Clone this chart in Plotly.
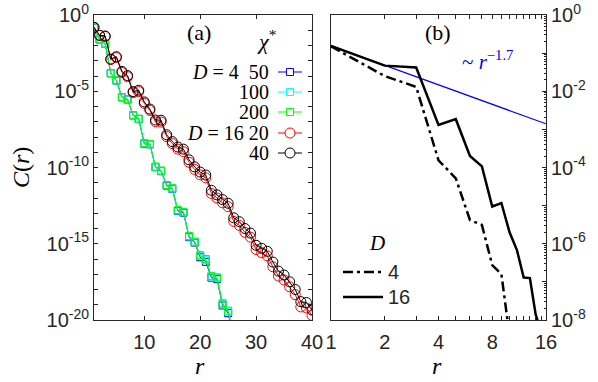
import plotly.graph_objects as go

# ---- data ----
r_d4 = list(range(1, 27))
r_d16 = list(range(1, 41))

# D = 4, chi* = 50 / 100 / 200
c_d4_chi50 = [1.5e-1, 2.5e-2, 1.3e-2, 1.5e-4, 5.0e-5, 4.0e-6, 2.9e-6, 2.6e-7, 1.5e-7, 3.6e-9,
              3.3e-9, 1.05e-10, 5.8e-11, 6.5e-12, 4.0e-12, 1.4e-13, 1.1e-13, 2.7e-15, 1.2e-15, 1.3e-16,
              6.5e-17, 6.0e-18, 4.8e-18, 9.0e-20, 2.8e-20, 6.0e-22]
c_d4_chi100 = [1.5e-1, 2.5e-2, 1.3e-2, 1.55e-4, 5.1e-5, 4.1e-6, 3.0e-6, 2.7e-7, 1.55e-7, 3.8e-9,
               3.4e-9, 1.1e-10, 6.1e-11, 6.9e-12, 4.2e-12, 1.5e-13, 1.2e-13, 3.0e-15, 1.3e-15, 1.6e-16,
               8.5e-17, 7.0e-18, 5.6e-18, 1.1e-19, 3.5e-20, 8.0e-22]
c_d4_chi200 = [1.5e-1, 2.5e-2, 1.3e-2, 1.55e-4, 5.2e-5, 4.2e-6, 3.1e-6, 2.75e-7, 1.6e-7, 3.9e-9,
               3.5e-9, 1.15e-10, 6.3e-11, 7.1e-12, 4.4e-12, 1.6e-13, 1.26e-13, 3.2e-15, 1.4e-15, 1.8e-16,
               1.0e-16, 7.8e-18, 6.3e-18, 1.26e-19, 4.1e-20, 1.0e-21]

# D = 16, chi* = 20 / 40
c_d16_chi20 = [1.55e-1, 4.5e-2, 3.9e-2, 1.2e-3, 1.6e-3, 1.7e-4, 9.0e-5, 8.0e-6, 9.5e-6, 1.6e-6,
               5.5e-7, 1.0e-7, 9.5e-8, 1.05e-8, 3.7e-9, 1.6e-9, 1.1e-9, 2.2e-10, 7.5e-11, 3.3e-11,
               2.1e-11, 2.0e-12, 1.0e-12, 4.8e-13, 2.7e-13, 2.9e-14, 1.6e-14, 5.6e-15, 2.7e-15, 4.2e-16,
               2.6e-16, 1.6e-16, 3.1e-17, 7.6e-18, 4.2e-18, 1.5e-18, 4.6e-19, 7.2e-20, 6.2e-20, 2.0e-20]
c_d16_chi40 = [1.55e-1, 4.7e-2, 4.2e-2, 1.3e-3, 1.85e-3, 2.0e-4, 1.07e-4, 9.5e-6, 1.17e-5, 2.0e-6,
               6.8e-7, 1.3e-7, 1.26e-7, 1.4e-8, 5.0e-9, 2.2e-9, 1.6e-9, 3.2e-10, 1.1e-10, 5.0e-11,
               3.2e-11, 3.2e-12, 1.6e-12, 7.9e-13, 4.5e-13, 5.0e-14, 2.8e-14, 1.0e-14, 5.0e-15, 7.9e-16,
               5.0e-16, 3.2e-16, 6.3e-17, 1.6e-17, 8.9e-18, 3.2e-18, 1.0e-18, 1.6e-19, 1.4e-19, 4.5e-20]

# power-law guide ~ r^-1.7 in panel (b)
fit_r = [1, 16]
fit_c = [1.55e-1, 1.4e-3]

W, H = 598, 382
SANS = "Liberation Sans"
SERIF = "Liberation Serif"
AX = "#262626"


def px(x):
    return x / W


def py(y):
    return 1 - y / H


fig = go.Figure()

# ---- panel (a) ----
series_a = [
    (r_d4, c_d4_chi50, "#0000FF", "square-open", 7),
    (r_d4, c_d4_chi100, "#00FFFF", "square-open", 7),
    (r_d4, c_d4_chi200, "#00FF00", "square-open", 7),
    (r_d16, c_d16_chi20, "#FF0000", "circle-open", 10),
    (r_d16, c_d16_chi40, "#000000", "circle-open", 10),
]
for rr, cc, col, sym, size in series_a:
    fig.add_trace(go.Scatter(
        x=rr, y=cc, mode="lines+markers",
        line=dict(color=col, width=1),
        marker=dict(symbol=sym, size=size, color=col, line=dict(color=col, width=1)),
        xaxis="x", yaxis="y", showlegend=False, cliponaxis=True
    ))

# ---- panel (b) ----
n16 = 16
fig.add_trace(go.Scatter(
    x=fit_r, y=fit_c, mode="lines", line=dict(color="#0000FF", width=1.2),
    xaxis="x2", yaxis="y2", showlegend=False
))
fig.add_trace(go.Scatter(
    x=r_d4[:n16], y=c_d4_chi200[:n16], mode="lines",
    line=dict(color="black", width=2.5, dash="10px,4px,3px,4px"),
    xaxis="x2", yaxis="y2", showlegend=False
))
fig.add_trace(go.Scatter(
    x=r_d16[:n16], y=c_d16_chi40[:n16], mode="lines",
    line=dict(color="black", width=2.5),
    xaxis="x2", yaxis="y2", showlegend=False
))

# ---- axes ----
dec_a = [10.0 ** k for k in range(-20, 1)]
lab_a = ["10<sup>%d</sup>" % k if k % 5 == 0 else "" for k in range(-20, 1)]
dec_b = [10.0 ** k for k in range(-8, 1)]
lab_b = ["10<sup>%d</sup>" % k if k % 2 == 0 else "" for k in range(-8, 1)]
minor_b = [m * 10.0 ** k for k in range(-8, 0) for m in range(2, 10)]
xt_b = list(range(1, 17))
xl_b = [str(v) if v in (1, 2, 4, 8, 16) else "" for v in xt_b]

common = dict(showline=True, linecolor=AX, linewidth=1, ticks="inside", ticklen=4,
              tickcolor=AX, tickwidth=1, showgrid=False, zeroline=False, automargin=False,
              tickfont=dict(family=SANS, size=20, color=AX))

fig.update_layout(
    width=W, height=H,
    margin=dict(l=0, r=0, t=0, b=0),
    paper_bgcolor="white", plot_bgcolor="white",
    xaxis=dict(domain=[px(94), px(312)], range=[1, 40], tickvals=[10, 20, 30, 40],
               anchor="y", mirror="ticks", ticklabelstandoff=4, **common),
    yaxis=dict(domain=[py(320), py(15)], type="log", range=[-20, 0],
               tickvals=dec_a, ticktext=lab_a, anchor="x", mirror="ticks", **common),
    xaxis2=dict(domain=[px(331), px(546)], type="log", range=[0, 1.20412],
                tickvals=xt_b, ticktext=xl_b, anchor="y2", mirror="ticks",
                ticklabelstandoff=4, **common),
    yaxis2=dict(domain=[py(320), py(15)], type="log", range=[-8, 0], side="right",
                tickvals=dec_b, ticktext=lab_b, anchor="x2", mirror=True,
                minor=dict(tickvals=minor_b, ticks="inside", ticklen=2, tickcolor=AX),
                **common),
)


# ---- text ----
def note(x, y, text, size=18, color="black", family=SERIF, xanchor="center", **kw):
    fig.add_annotation(x=px(x), y=py(y), xref="paper", yref="paper", text=text,
                       showarrow=False, xanchor=xanchor, yanchor="middle",
                       font=dict(family=family, size=size, color=color), **kw)


note(21, 168, "<i>C</i>(<i>r</i>)", size=24, textangle=-90)
note(200, 366, "<i>r</i>", size=24)
note(437, 366, "<i>r</i>", size=24)
note(199, 33, "(a)", size=22)
note(438, 33, "(b)", size=22)
note(266, 40, "<i>χ</i><sup>*</sup>", size=22)

# legend (a): text left of the line sample
rows = [("<i>D</i> = 4  50", 72, "#0000FF", "rect"),
        ("100", 92, "#00FFFF", "rect"),
        ("200", 112, "#00FF00", "rect"),
        ("<i>D</i> = 16 20", 133, "#FF0000", "circle"),
        ("40", 153, "#000000", "circle")]
for txt, yy, col, shp in rows:
    note(271, yy, txt, size=20, xanchor="right")
    fig.add_shape(type="line", xref="paper", yref="paper",
                  x0=px(278), x1=px(302), y0=py(yy), y1=py(yy),
                  line=dict(color=col, width=1))
    hs = 3.5 if shp == "rect" else 5
    fig.add_shape(type=shp, xref="paper", yref="paper",
                  x0=px(290 - hs), x1=px(290 + hs), y0=py(yy - hs), y1=py(yy + hs),
                  line=dict(color=col, width=1), fillcolor="white")

# panel (b) annotations
note(487, 60, "~ <i>r</i><sup>−1.7</sup>", size=21, color="#0000FF")
note(377, 243, "<i>D</i>", size=21)
fig.add_shape(type="line", xref="paper", yref="paper", x0=px(343), x1=px(383),
              y0=py(272), y1=py(272), line=dict(color="black", width=2.5, dash="10px,4px,3px,4px"))
fig.add_shape(type="line", xref="paper", yref="paper", x0=px(343), x1=px(383),
              y0=py(297), y1=py(297), line=dict(color="black", width=2.5))
note(386, 272, "4", size=20, family=SANS, color=AX, xanchor="left")
note(386, 297, "16", size=20, family=SANS, color=AX, xanchor="left")

# page body has an 8px default margin; drop it so the figure sits at the window origin
fig.write_html("out.html", config={"displayModeBar": False},
               post_script="document.body.style.margin='0';")
